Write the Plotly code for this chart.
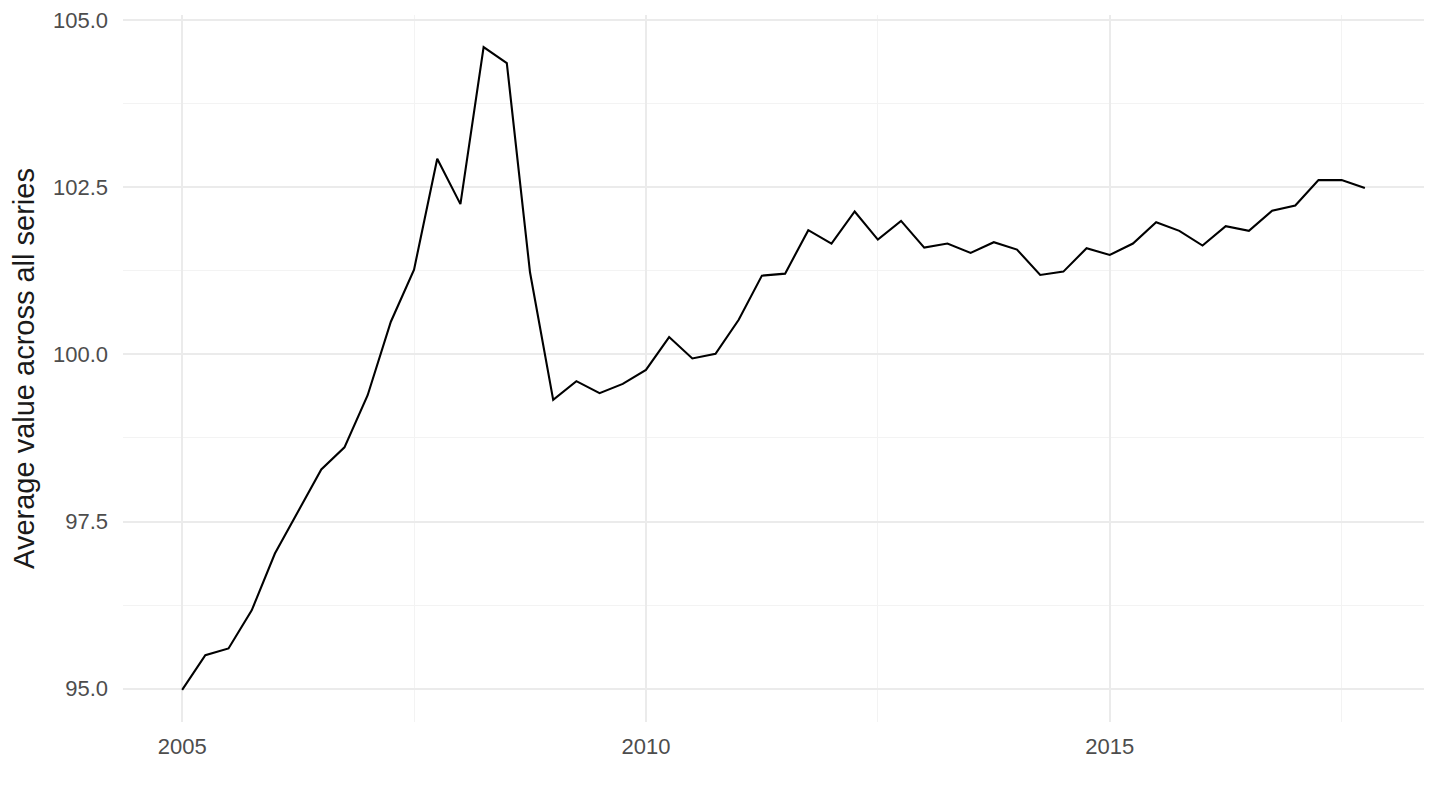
import plotly.graph_objects as go

start_year = 2005
quarters_per_year = 4
values = [
    94.98, 95.50, 95.60, 96.17, 97.02, 97.65, 98.28, 98.61,
    99.39, 100.49, 101.27, 102.93, 102.25, 104.60, 104.36, 101.23,
    99.32, 99.60, 99.42, 99.56, 99.77, 100.26, 99.94, 100.01,
    100.52, 101.18, 101.21, 101.86, 101.66, 102.14, 101.72, 102.00,
    101.60, 101.66, 101.52, 101.68, 101.57, 101.19, 101.24, 101.59,
    101.49, 101.66, 101.98, 101.85, 101.63, 101.92, 101.85, 102.15,
    102.23, 102.61, 102.61, 102.49,
]
dates = [start_year + i / quarters_per_year for i in range(len(values))]

x_ticks = [2005, 2010, 2015]
x_tick_labels = ["2005", "2010", "2015"]
x_minor = [2007.5, 2012.5, 2017.5]
y_ticks = [95.0, 97.5, 100.0, 102.5, 105.0]
y_tick_labels = ["95.0", "97.5", "100.0", "102.5", "105.0"]
y_minor = [96.25, 98.75, 101.25, 103.75]
y_title = "Average value across all series"

fig = go.Figure()
fig.add_trace(go.Scatter(x=dates, y=values, mode="lines",
                         line=dict(color="black", width=2.1),
                         hoverinfo="skip", showlegend=False))

xr = (dates[-1] - dates[0]) * 0.05
ymin, ymax = min(values), max(values)
yr = (ymax - ymin) * 0.05

# page body has an 8px margin; figure is sized/margined to compensate
fig.update_layout(
    width=1432, height=802,
    margin=dict(l=115, r=16, t=7, b=88),
    paper_bgcolor="white", plot_bgcolor="white",
    font=dict(family="Liberation Sans, Arial, sans-serif", color="#4d4d4d", size=22),
)
fig.update_xaxes(
    range=[dates[0] - xr, dates[-1] + xr],
    tickmode="array", tickvals=x_ticks, ticktext=x_tick_labels,
    showgrid=True, gridcolor="#ebebeb", gridwidth=2,
    minor=dict(tickmode="array", tickvals=x_minor,
               showgrid=True, gridcolor="#f3f3f3", gridwidth=1.2),
    zeroline=False, showline=False, ticks="", ticklabelstandoff=9,
    tickfont=dict(size=22, color="#4d4d4d"), automargin=False,
)
fig.update_yaxes(
    range=[ymin - yr, ymax + yr],
    tickmode="array", tickvals=y_ticks, ticktext=y_tick_labels,
    showgrid=True, gridcolor="#ebebeb", gridwidth=2,
    minor=dict(tickmode="array", tickvals=y_minor,
               showgrid=True, gridcolor="#f3f3f3", gridwidth=1.2),
    zeroline=False, showline=False, ticks="", ticklabelstandoff=14,
    tickfont=dict(size=22, color="#4d4d4d"), automargin=False,
    title=dict(text=y_title, font=dict(size=29, color="#1a1a1a"), standoff=9),
)

fig.write_html("out.html")
